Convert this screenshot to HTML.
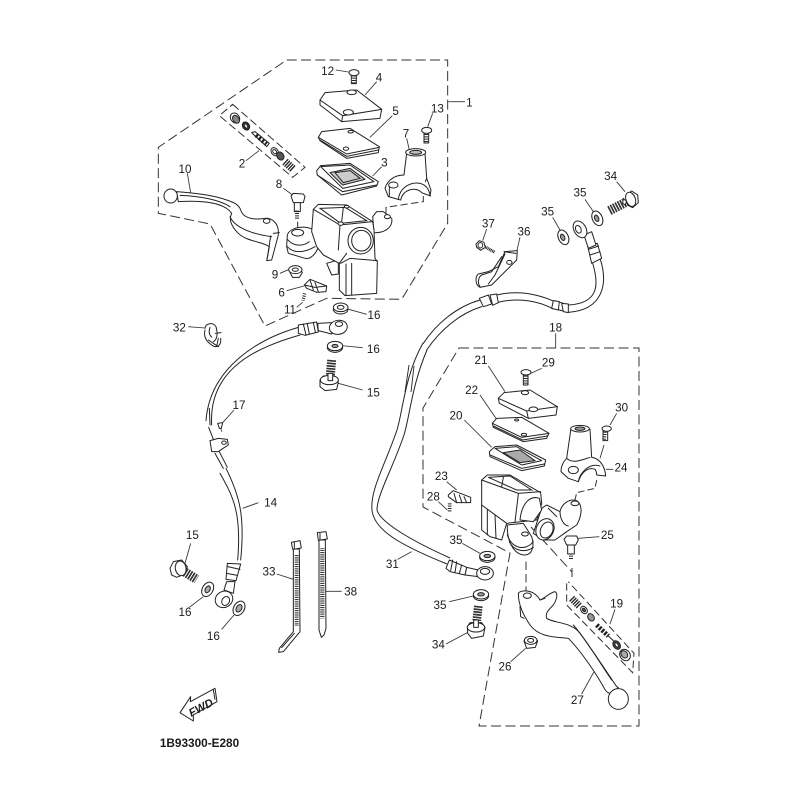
<!DOCTYPE html>
<html><head><meta charset="utf-8"><style>
html,body{margin:0;padding:0;background:#fff}
svg{display:block}
.p,.p *{stroke:#222;stroke-width:3;fill:#fff;stroke-linejoin:round}
.n,.n *{stroke:#222;stroke-width:3;fill:none;stroke-linecap:round}
.l{stroke:#333;stroke-width:2.6;fill:none}
.d{stroke:#333;stroke-width:3;fill:none;stroke-dasharray:30 13}
.k{fill:#444;stroke:#222;stroke-width:2}
.t{stroke:#222;stroke-width:7;fill:none;stroke-dasharray:3 4}
text{font-family:"Liberation Sans",sans-serif;font-size:35px;fill:#1a1a1a;text-anchor:middle}
</style></head><body>
<svg width="800" height="800" viewBox="0 0 800 800" xmlns="http://www.w3.org/2000/svg">
<rect width="800" height="800" fill="#fff"/>
<g fill="none" stroke="#333" stroke-width="1" stroke-dasharray="10 4.5">
<path d="M459 348H639V726H479L510 553L423 507V408Z"/>
<path d="M531 527L572 572M572 568V577"/>
</g>

<!-- long hose 31 -->
<g fill="none" stroke="#222" stroke-width="1">
<path d="M423 343C405 375 403 410 397 430C385 465 370 490 372 510C374 530 400 545 447 564"/>
<path d="M427 350C412 385 410 415 404 435C392 470 377 495 377 510C380 522 410 540 450 558"/>
<path d="M409 365L405 392M414 366L411 392" stroke-width=".9"/>
</g>

<!-- GROUP 1 -->
<g transform="translate(150 50) scale(.33333)">
<path class="d" d="M410 30H893V520L755 748L530 745L345 828L180 522L25 490V292Z"/>
<path class="d" d="M248 163L465 352L428 382L208 197Z" style="stroke-dasharray:24 11"/>
<path class="d" d="M708 492V472L820 455V435M443 515V538" style="stroke-dasharray:22 10"/>
<path class="l" d="M895 155H945M558 60L595 66M680 95L645 135M727 197L660 262M695 350L668 378M848 190L833 230M770 265L778 300M112 370L122 428M288 332L327 302M400 415L428 435M390 670L418 658M410 722L462 708M440 772L458 757M650 793L596 778"/>
<text x="958" y="169">1</text><text x="533" y="75">12</text><text x="687" y="94">4</text><text x="737" y="195">5</text><text x="703" y="349">3</text><text x="862" y="187">13</text><text x="768" y="262">7</text><text x="105" y="369">10</text><text x="276" y="352">2</text><text x="387" y="414">8</text><text x="375" y="685">9</text><text x="395" y="740">6</text><text x="420" y="790">11</text><text x="672" y="807">16</text>

<!-- screw 12 -->
<g class="p"><rect x="604" y="74" width="15" height="27"/><ellipse cx="612" cy="68" rx="15" ry="9"/></g><path class="t" d="M612 76V100" style="stroke-width:12"/>
<!-- cover 4 -->
<g class="p"><path d="M510 150L525 128L620 120L695 178L690 205L575 215L510 165Z"/></g>
<g class="n"><path d="M510 150L578 197L695 178M578 197L575 215"/></g>
<g class="p"><ellipse cx="605" cy="127" rx="14" ry="7"/><ellipse cx="595" cy="187" rx="15" ry="8"/></g>
<!-- plate 5 -->
<g class="p"><path d="M505 262L515 245L600 235L688 290L685 308L590 325L510 272Z"/></g>
<g class="n"><path d="M505 262L590 312L688 292M510 270L590 319L685 300"/></g>
<g class="p"><ellipse cx="602" cy="245" rx="8" ry="4"/><ellipse cx="588" cy="296" rx="8" ry="5"/></g>
<!-- gasket 3 -->
<g class="p"><path d="M500 362L512 347L600 340L685 395L680 408L575 435L502 375Z"/><path d="M512 350L600 345L672 395L578 415Z"/><path d="M540 368L600 355L645 388L578 405Z" style="fill:#ccc"/></g>
<g class="n"><path d="M502 375L578 425L680 405M555 368L600 362L630 385L580 398Z"/></g>
<!-- screw 13 -->
<g class="p"><rect x="822" y="245" width="14" height="34"/><ellipse cx="830" cy="241" rx="15" ry="9"/></g><path class="t" d="M829 252V278" style="stroke-width:11"/>
<!-- bracket 7 -->
<g class="p"><path d="M770 310L762 375C735 375 712 390 705 415L715 440L745 448C750 410 785 395 810 400C830 405 838 420 840 437L843 420L830 385L825 310Z"/><ellipse cx="797" cy="307" rx="30" ry="11"/><ellipse cx="797" cy="307" rx="18" ry="6" style="fill:#bbb"/><ellipse cx="730" cy="405" rx="14" ry="9"/></g>
<g class="n"><path d="M745 448L752 450C760 415 800 410 815 428L842 438M718 410V438M830 385L826 395"/></g>

<!-- lever 10 -->
<g class="p"><path d="M80 425C120 428 180 435 215 445C245 455 265 460 272 480C280 505 310 510 345 505C365 502 385 520 385 545L385 555L365 630L350 632L358 590C340 575 290 575 265 550C245 530 235 510 245 490C225 460 165 450 85 455Z"/><ellipse cx="62" cy="438" rx="20" ry="21"/><ellipse cx="350" cy="513" rx="10" ry="7"/></g>
<g class="n"><path d="M90 436C150 438 210 450 240 470M240 500C250 525 290 550 365 560M362 558L352 625M370 550L388 548"/></g>

<!-- kit 2 -->
<g class="p"><ellipse cx="255" cy="204" rx="13" ry="16" transform="rotate(-35 255 204)"/><ellipse cx="258" cy="208" rx="9" ry="13" transform="rotate(-35 258 208)" style="fill:#888"/><ellipse cx="288" cy="228" rx="10" ry="13" transform="rotate(-35 288 228)" style="fill:#333"/><ellipse cx="288" cy="228" rx="4" ry="7" transform="rotate(-35 288 228)"/><path d="M305 248L315 245L358 280L350 290Z"/><ellipse cx="374" cy="305" rx="10" ry="13" transform="rotate(-35 374 305)"/><ellipse cx="374" cy="305" rx="5" ry="7" transform="rotate(-35 374 305)"/><ellipse cx="391" cy="318" rx="10" ry="13" transform="rotate(-35 391 318)" style="fill:#555"/></g>
<path d="M318 255L350 282" stroke="#222" stroke-width="14" stroke-dasharray="7 5" fill="none"/>
<path d="M405 335L430 358" stroke="#222" stroke-width="24" stroke-dasharray="4 3" fill="none"/>

<!-- bolt 8 -->
<g class="p"><rect x="433" y="455" width="18" height="30"/><path d="M423 438L430 430L460 432L465 440L460 458L430 458Z"/></g>
<path class="t" d="M441 482V506" style="stroke-width:12"/>
<!-- mount block and ear -->
<g class="p"><path d="M668 500L680 485L700 485L725 505C730 530 705 550 672 548Z"/><ellipse cx="712" cy="500" rx="9" ry="6"/>
<path d="M412 555C420 530 470 525 490 540L505 590C500 610 480 630 465 625L415 610L410 590Z"/><ellipse cx="443" cy="548" rx="18" ry="10"/></g>
<g class="n"><path d="M412 568C430 590 460 590 478 575M412 590C430 610 460 610 495 590"/></g>
<path class="p" d="M530 640L545 675L565 672L565 630Z" style="fill:#fff;stroke:#222;stroke-width:3"/>
<!-- body -->
<path class="p" d="M490 478L505 463L590 465L668 515L672 540L675 625L682 635L680 730L585 737L568 720L568 640L520 615L500 590L485 545Z" style="fill:#fff;stroke:#222;stroke-width:3"/>
<g class="n"><path d="M490 478L570 525L668 515M510 475L585 472L650 512L572 520ZM580 472L575 515M570 525L565 600M572 640L600 625L682 632M588 642L588 735M605 640L605 735M568 640L590 610"/></g>
<g class="p"><ellipse cx="590" cy="470" rx="7" ry="4"/><ellipse cx="572" cy="521" rx="8" ry="5"/><ellipse cx="632" cy="572" rx="38" ry="40"/><ellipse cx="634" cy="572" rx="29" ry="31"/></g>

<!-- nut 9 -->
<g class="p"><path d="M420 668L428 682L448 682L457 668L450 655H425Z"/><ellipse cx="436" cy="659" rx="20" ry="12"/><ellipse cx="436" cy="659" rx="9" ry="5"/></g>
<!-- 6 -->
<g class="p"><path d="M463 705L480 688L530 708L528 725L500 727L470 715Z"/></g><g class="n"><path d="M480 690L490 720M495 698L505 725M463 705L495 712L530 708"/></g>
<path class="t" d="M464 730L459 752" style="stroke-width:10"/>
<!-- washer 16 -->
<g class="p"><ellipse cx="572" cy="778" rx="22" ry="14"/><ellipse cx="572" cy="772" rx="22" ry="13"/><ellipse cx="572" cy="772" rx="10" ry="6"/></g>
</g>

<!-- GROUP HOSE 14 -->
<g transform="translate(150 310) scale(.33333)">
<g class="n"><path d="M445 52C330 85 180 170 168 332M450 75C330 110 175 170 185 345M178 295L180 345M176 352L190 388M195 430L220 475M208 425L232 472M210 490C250 560 275 610 263 750M228 475C270 560 285 620 272 750"/></g>
<g class="p"><path d="M445 45L500 36L505 66L465 76L445 70Z"/><path d="M503 40L545 38L552 65L545 72L505 62Z"/><ellipse cx="565" cy="52" rx="27" ry="21" transform="rotate(-10 565 52)"/><ellipse cx="567" cy="42" rx="11" ry="7"/></g>
<g class="n"><path d="M460 42L468 75M472 42L478 72M490 38L496 66"/></g>
<g class="p"><path d="M180 392L205 385L232 388L235 405L215 418L205 425L185 425Z"/><ellipse cx="222" cy="398" rx="7" ry="5"/><path d="M203 340L218 338L214 355L208 355Z"/></g>
<path class="k" d="M212 354l4 12"/>
<g class="l"><path d="M252 300L218 338M565 220L638 240M555 105L638 113M115 50L165 54M278 595L325 578M122 700L105 760M160 860L118 892M252 915L215 958M380 792L430 808M527 844H575"/></g>
<text x="267" y="297">17</text><text x="88" y="64">32</text><text x="362" y="589">14</text><text x="670" y="129">16</text><text x="670" y="259">15</text><text x="127" y="687">15</text><text x="105" y="918">16</text><text x="190" y="990">16</text><text x="357" y="797">33</text><text x="602" y="856">38</text>
<!-- washer 16 -->
<g class="p"><ellipse cx="555" cy="112" rx="23" ry="15"/><ellipse cx="555" cy="108" rx="23" ry="14"/><ellipse cx="555" cy="108" rx="9" ry="5" style="fill:#999"/></g>
<!-- bolt 15 top -->
<path d="M545 150L541 195" stroke="#333" stroke-width="27" stroke-dasharray="5 3" fill="none"/>
<g class="p"><path d="M510 210L520 198L555 200L565 215L560 238L525 242L510 230Z"/><ellipse cx="538" cy="210" rx="27" ry="14"/><rect x="534" y="190" width="14" height="22"/></g>
<!-- clip 32 -->
<g class="n"><path d="M165 55C165 40 190 35 198 50C205 75 200 90 190 95M180 52C175 65 178 75 185 82M165 60C160 80 170 95 185 105C198 115 215 110 212 85M175 90L205 110M196 70L213 68M205 85L200 110"/></g>
<!-- bolt 15 lower left -->
<path d="M98 782L140 808" stroke="#333" stroke-width="28" stroke-dasharray="5 3" fill="none"/>
<g class="p"><path d="M60 775L70 755L95 750L112 770L105 792L80 802L65 795Z"/><ellipse cx="92" cy="775" rx="16" ry="22" transform="rotate(-10 92 775)"/></g>
<g class="p"><ellipse cx="173" cy="838" rx="16" ry="23" transform="rotate(30 173 838)"/><ellipse cx="173" cy="838" rx="7" ry="11" transform="rotate(30 173 838)" style="fill:#aaa"/><ellipse cx="267" cy="895" rx="16" ry="23" transform="rotate(30 267 895)"/><ellipse cx="267" cy="895" rx="8" ry="12" transform="rotate(30 267 895)" style="fill:#aaa"/></g>
<!-- lower fitting -->
<g class="p"><path d="M230 815L222 840L250 850L255 815Z"/><path d="M232 760L272 762L258 812L228 808Z"/><ellipse cx="222" cy="868" rx="27" ry="24" transform="rotate(-30 222 868)"/><ellipse cx="227" cy="873" rx="11" ry="14" transform="rotate(30 227 873)"/></g>
<g class="n"><path d="M233 770L270 778M230 790L262 796"/></g>
</g>

<!-- TIES / FWD -->
<g transform="translate(150 520) scale(.33333)">
<g class="p"><path d="M430 87L430 335L388 385L386 397L400 395L450 335L448 87Z"/><path d="M424 67L450 62L454 84L428 88Z"/><path d="M507 60L507 330L514 352L522 345L528 325L526 60Z"/><path d="M502 38L528 35L532 57L505 61Z"/></g>
<path class="t" d="M440 105V318" style="stroke-width:12;stroke-dasharray:2.5 3"/>
<path class="t" d="M517 85V295" style="stroke-width:13;stroke-dasharray:2.5 3"/>
<g class="n"><path d="M395 383L433 340M433 67V86M510 40V60"/></g>
<g class="p"><path d="M195 505L201 545L130 585L130 603L90 578L122 530L121 545Z"/></g>
<path class="n" d="M190 510L195 538" />
<text x="0" y="0" transform="translate(158 573) rotate(-28)" style="font-size:34px;font-weight:bold;font-style:italic">FWD</text>
</g>
<text x="199.500" y="747" style="font-size:11.800px;font-weight:bold">1B93300-E280</text>

<!-- UPPER HOSE -->
<g transform="translate(360 160) scale(.33333)">
<g class="n"><path d="M720 295C745 370 730 450 625 457M695 300C718 370 720 430 625 435M625 435L585 422M625 457L580 445M585 425C540 405 480 388 410 405M580 447C540 425 480 410 410 428M360 420C290 440 230 490 190 550M365 440C300 460 240 510 200 570"/></g>
<g class="p"><path d="M358 415L385 405L395 432L370 440Z"/><path d="M390 405L410 402L415 428L398 436Z"/><path d="M580 422L598 425L595 450L575 445Z"/><path d="M605 430L625 432L625 458L610 455Z"/><path d="M683 258L712 250L725 295L695 310Z"/><path d="M672 225L695 215L708 255L685 265Z"/><ellipse cx="660" cy="208" rx="18" ry="27" transform="rotate(-30 660 208)"/><ellipse cx="655" cy="208" rx="8" ry="12" transform="rotate(-25 655 208)"/></g>
<g class="n"><path d="M686 268L716 258M690 285L720 275"/></g>
<g class="l"><path d="M480 232L470 275M380 207L368 242M578 172L600 210M675 118L700 155M770 65L795 95M587 520V563"/></g>
<text x="492" y="227">36</text><text x="385" y="202">37</text><text x="563" y="167">35</text><text x="660" y="110">35</text><text x="752" y="60">34</text><text x="587" y="515">18</text>
<!-- bracket 36 -->
<g class="p"><path d="M435 275L472 272L470 300L420 350L395 375L360 382C345 375 345 350 355 342L385 335L415 320Z"/><ellipse cx="448" cy="307" rx="8" ry="6"/></g>
<g class="n"><path d="M425 290L395 335L365 345C355 350 352 370 360 380M435 282L405 345L385 372M432 275L468 280"/></g>
<!-- bolt 37 -->
<path d="M370 258L405 277" stroke="#222" stroke-width="9" stroke-dasharray="3 2" fill="none"/>
<g class="p"><path d="M348 252L358 242L372 247L376 262L362 271L350 262Z"/><ellipse cx="361" cy="256" rx="7" ry="8"/></g>
<!-- washers 35 -->
<g class="p"><ellipse cx="610" cy="232" rx="15" ry="23" transform="rotate(-25 610 232)"/><ellipse cx="608" cy="232" rx="6" ry="10" transform="rotate(-25 608 232)" style="fill:#999"/><ellipse cx="712" cy="175" rx="15" ry="23" transform="rotate(-25 712 175)"/><ellipse cx="710" cy="175" rx="6" ry="10" transform="rotate(-25 710 175)" style="fill:#999"/></g>
<!-- bolt 34 -->
<path d="M748 152L795 128" stroke="#333" stroke-width="28" stroke-dasharray="5 3" fill="none"/>
<g class="p"><path d="M790 115L800 125L795 135L788 130Z"/><path d="M798 105L815 93L833 105L835 128L818 143L802 135Z"/><ellipse cx="812" cy="118" rx="14" ry="22" transform="rotate(-20 812 118)"/></g>
</g>

<!-- GROUP 18 -->
<g transform="translate(400 340) scale(.33333)">
<g class="l"><path d="M265 78L315 155M425 85L392 100M240 165L290 238M193 240L275 322M650 220L630 255M640 388L618 388M140 425L170 450M115 485L142 510M598 590L535 595M612 315L600 355"/></g>
<text x="243" y="72">21</text><text x="445" y="79">29</text><text x="215" y="162">22</text><text x="168" y="239">20</text><text x="665" y="214">30</text><text x="663" y="395">24</text><text x="124" y="420">23</text><text x="100" y="482">28</text><text x="622" y="597">25</text>
<!-- screw 29 -->
<g class="p"><rect x="370" y="105" width="14" height="30"/><ellipse cx="378" cy="97" rx="15" ry="8"/></g><path class="t" d="M377 107V134" style="stroke-width:11"/>
<!-- 21 -->
<g class="p"><path d="M295 175L312 158L390 150L472 200L468 225L385 235L298 190Z"/></g><g class="n"><path d="M295 175L380 213L472 200M380 213L385 235"/></g>
<g class="p"><ellipse cx="375" cy="158" rx="11" ry="6"/><ellipse cx="400" cy="208" rx="13" ry="7"/></g>
<!-- 22 -->
<g class="p"><path d="M277 250L290 235L365 232L447 280L440 295L370 305L280 262Z"/></g><g class="n"><path d="M277 250L365 292L447 280M280 258L368 300L442 288"/></g><g class="p"><ellipse cx="350" cy="240" rx="6" ry="3"/><ellipse cx="372" cy="284" rx="8" ry="4"/></g>
<!-- 20 -->
<g class="p"><path d="M268 335L285 320L350 315L437 360L433 378L365 392L270 350Z"/><path d="M285 325L350 320L425 362L365 375Z"/><path d="M310 338L360 330L405 362L360 368Z" style="fill:#aaa"/></g>
<g class="n"><path d="M270 345L365 385L433 372"/></g>
<!-- screw 30 -->
<g class="p"><rect x="609" y="272" width="14" height="30"/><ellipse cx="620" cy="266" rx="14" ry="8"/></g><path class="t" d="M615 275L612 302" style="stroke-width:11"/>
<!-- bracket 24 -->
<g class="p"><path d="M513 265L500 355C485 370 483 385 483 395L505 415L535 425C545 395 565 380 585 388C590 395 590 403 590 405L617 408C615 380 600 355 575 352L570 268Z"/><ellipse cx="540" cy="266" rx="28" ry="10"/><ellipse cx="540" cy="266" rx="15" ry="5" style="fill:#999"/><ellipse cx="520" cy="390" rx="15" ry="11"/></g>
<g class="n"><path d="M500 355C520 372 545 360 570 352M535 425C540 395 570 368 600 378"/></g>
<path class="d" d="M590 420L585 445L530 458L525 480" style="stroke-dasharray:20 9"/>
<!-- 23 -->
<g class="p"><path d="M145 465L160 452L212 472L212 488L170 488L145 470Z"/></g><g class="n"><path d="M162 460L170 488M178 465L186 488M192 470L200 488"/></g>
<path class="t" d="M149 490L149 515" style="stroke-width:11"/>
<!-- body -->
<g class="p"><path d="M425 505L440 495L480 515C485 490 510 475 530 482C550 495 545 530 530 555L500 575L465 600L430 600L400 580Z"/><ellipse cx="525" cy="490" rx="12" ry="7"/></g>
<g class="n"><path d="M480 515C480 535 490 555 505 558M445 505L470 530"/></g>
<g class="p"><path d="M245 420L262 405L330 405L422 458L425 490L410 540L320 550L305 600L270 590L245 570Z"/></g>
<g class="n"><path d="M245 420L355 460L422 455M265 412L330 408L395 450L350 450ZM262 510L262 585M285 525L288 595M355 462L345 545M310 412L305 440M245 495L320 550"/></g>
<g class="p"><path d="M360 540C365 490 390 465 418 475L425 510L400 545Z"/><path d="M322 555C320 600 340 645 375 645C395 645 405 620 395 590L370 550Z"/></g>
<g class="n"><path d="M322 585C335 625 375 635 400 605M328 605C340 632 375 640 400 622"/></g>
<g class="p"><ellipse cx="375" cy="582" rx="10" ry="6"/><ellipse cx="435" cy="568" rx="26" ry="33" transform="rotate(25 435 568)"/><ellipse cx="440" cy="570" rx="18" ry="25" transform="rotate(25 440 570)"/></g>
<!-- bolt 25 -->
<g class="p"><rect x="503" y="612" width="20" height="30"/><path d="M492 598L500 588L530 588L535 600L527 615L500 615Z"/></g><path class="t" d="M513 640V660" style="stroke-width:12"/>
</g>

<!-- lower fitting 31, washers, bolt -->
<g transform="translate(360 510) scale(.33333)">
<g class="p"><path d="M320 172L355 180L355 200L315 195Z"/><path d="M268 150L320 172L315 195L270 185L258 175Z"/><ellipse cx="375" cy="190" rx="25" ry="20"/><ellipse cx="375" cy="184" rx="14" ry="9"/></g>
<g class="n"><path d="M278 150L272 182M290 155L285 187M305 165L298 190"/></g>
<g class="l"><path d="M307 100L360 130M268 275L340 258M258 402L322 368M113 148L155 125M452 455L497 415"/></g>
<text x="288" y="102">35</text><text x="240" y="297">35</text><text x="235" y="415">34</text><text x="97" y="174">31</text><text x="435" y="482">26</text>
<g class="p"><ellipse cx="382" cy="142" rx="23" ry="15"/><ellipse cx="382" cy="138" rx="23" ry="14"/><ellipse cx="382" cy="138" rx="10" ry="5" style="fill:#999"/><ellipse cx="363" cy="257" rx="23" ry="15"/><ellipse cx="363" cy="253" rx="23" ry="14"/><ellipse cx="363" cy="253" rx="10" ry="5" style="fill:#999"/></g>
<path d="M355 288L350 332" stroke="#333" stroke-width="26" stroke-dasharray="5 3" fill="none"/>
<g class="p"><path d="M322 350L330 338L365 338L375 352L370 378L335 385L323 370Z"/><ellipse cx="348" cy="352" rx="26" ry="14"/><rect x="341" y="330" width="14" height="22"/></g>
<g class="p"><path d="M492 393L498 382L525 382L533 393L526 412L500 415Z"/><ellipse cx="512" cy="391" rx="19" ry="12"/><ellipse cx="512" cy="391" rx="9" ry="6"/></g>
</g>

<!-- lever 27 and kit 19 -->
<g transform="translate(440 550) scale(.33333)">
<path class="d" d="M258 35V130" style="stroke-dasharray:25 12"/>
<path class="d" d="M380 100V165L578 368L582 310L385 95" style="stroke-dasharray:22 11"/>
<g class="p"><path d="M235 130C240 120 280 115 300 150C315 145 325 130 345 125C355 130 350 150 340 165C325 180 315 190 320 205C340 220 395 215 420 250C450 290 490 350 530 410L535 412C510 440 500 430 490 410C465 365 420 300 385 265C350 260 300 265 270 225C250 195 235 165 235 130Z"/><ellipse cx="535" cy="447" rx="30" ry="31"/><ellipse cx="262" cy="137" rx="12" ry="8"/></g>
<g class="n"><path d="M400 225C440 270 480 340 515 390M240 170L242 200L252 205M300 150L315 145"/></g>
<g class="l"><path d="M525 178L510 222M425 432L462 365"/></g>
<text x="530" y="172">19</text><text x="412" y="462">27</text>
<path d="M395 145L418 168" stroke="#222" stroke-width="22" stroke-dasharray="4 3" fill="none"/>
<g class="p"><ellipse cx="432" cy="180" rx="9" ry="12" transform="rotate(-35 432 180)"/><ellipse cx="432" cy="180" rx="4" ry="6" transform="rotate(-35 432 180)" style="fill:#555"/><ellipse cx="453" cy="202" rx="9" ry="12" transform="rotate(-35 453 202)" style="fill:#999"/></g>
<path d="M470 225L505 258" stroke="#222" stroke-width="14" stroke-dasharray="7 4" fill="none"/>
<g class="n"><path d="M505 258L520 272"/></g>
<g class="p"><ellipse cx="530" cy="285" rx="10" ry="14" transform="rotate(-35 530 285)" style="fill:#444"/><ellipse cx="530" cy="285" rx="4" ry="7" transform="rotate(-35 530 285)"/><ellipse cx="555" cy="315" rx="15" ry="18" transform="rotate(-35 555 315)"/><ellipse cx="553" cy="313" rx="9" ry="12" transform="rotate(-35 553 313)" style="fill:#aaa"/></g>
</g>
</svg>
</body></html>
